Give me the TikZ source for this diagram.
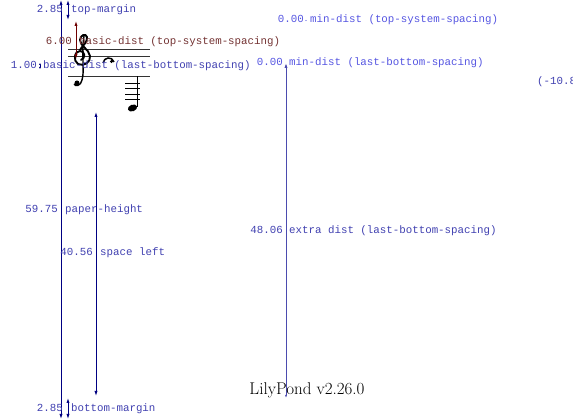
\documentclass[tikz,border=0pt]{standalone}
\usepackage{fontspec}
\setmonofont{Liberation Mono}
\usetikzlibrary{arrows.meta}
\definecolor{navy}{RGB}{0,0,130}
\definecolor{lblblue}{RGB}{64,64,176}
\definecolor{minblue}{RGB}{85,85,225}
\definecolor{lbrown}{RGB}{115,50,50}
\definecolor{darkred}{RGB}{110,0,0}
\definecolor{xblue}{RGB}{75,75,175}
\tikzset{
  lbl/.style={font=\fontsize{10.8}{12}\selectfont\ttfamily, inner sep=0pt},
  num/.style={lbl, anchor=mid east},
  txt/.style={lbl, anchor=mid west},
  tipd/.tip={Latex[length=5pt,width=3.2pt]},
  dimarrow/.style={line width=0.8pt, tipd-tipd},
  uparrow/.style={line width=0.8pt, -tipd},
  staffline/.style={line width=0.6pt, black!80},
}
\begin{document}
\begin{tikzpicture}[x=1pt,y=-1pt]
\useasboundingbox (0,0) rectangle (573,419);
% ---- music ----
\foreach \yy/\nm in {49/sa,56.5/sb,76.5/sc} {
  \coordinate (\nm l) at (68,\yy); \coordinate (\nm r) at (150,\yy);
  \draw[staffline] (\nm l) -- (\nm r);
}
% treble clef (approximate)
\draw[line width=1.9pt, line cap=round]
  (81,60) .. controls (86,58) and (85,51) .. (80,51)
  .. controls (74,51) and (73,61) .. (78,64)
  .. controls (84,67) and (91,62) .. (90,56)
  .. controls (89,49) and (80,46) .. (80,40)
  .. controls (80,35) and (86,33) .. (87,37)
  .. controls (88,42) and (82,46) .. (80,50);
\draw[line width=1.4pt] (84,36) .. controls (81,55) and (85,70) .. (82,80)
  .. controls (81,86) and (75,87) .. (74,84);
\fill (77,83) circle (2.5pt);
% rest-like mark
\draw[line width=1.5pt] (103,63) .. controls (104,57) and (112,56) .. (114,62);
\fill (111.5,61.5) circle (1.7pt);
% note with ledger lines
\foreach \yy/\nm in {83/la,88.5/lb,94/lc,99.5/ld} {
  \coordinate (\nm l) at (125,\yy); \coordinate (\nm r) at (140,\yy);
  \draw[line width=0.8pt] (\nm l) -- (\nm r);
}
\coordinate (stemtop) at (137,76.5); \coordinate (stembot) at (137,107);
\draw[line width=1pt] (stemtop) -- (stembot);
\fill[rotate around={20:(132.5,108)}] (132.5,108) ellipse (4.8pt and 3.3pt);
% ---- paper height ----
\coordinate (ph1) at (61,0); \coordinate (ph2) at (61,419);
\draw[dimarrow, navy] (ph1) -- (ph2);
\node[num, lblblue] (phn) at (58,210) {59.75};
\node[txt, lblblue] (pht) at (65,210) {paper-height};
% ---- top margin ----
\coordinate (tm1) at (68,0); \coordinate (tm2) at (68,20);
\draw[dimarrow, navy] (tm1) -- (tm2);
\node[num, lblblue] (tmn) at (63,10) {2.85};
\node[txt, lblblue] (tmt) at (71,10) {top-margin};
% ---- bottom margin ----
\coordinate (bm1) at (68,398); \coordinate (bm2) at (68,419);
\draw[dimarrow, navy] (bm1) -- (bm2);
\node[num, lblblue] (bmn) at (63,409) {2.85};
\node[txt, lblblue] (bmt) at (71,409) {bottom-margin};
% ---- basic-dist top-system ----
\coordinate (bd1) at (76,21); \coordinate (bd2) at (76,59);
\draw[dimarrow, darkred] (bd1) -- (bd2);
\node[num, lbrown] (bdn) at (72,42) {6.00};
\node[txt, lbrown] (bdt) at (79,42) {basic-dist (top-system-spacing)};
% ---- basic-dist last-bottom ----
\coordinate (lb1) at (40,63); \coordinate (lb2) at (40,69);
\draw[line width=0.6pt, navy, {Latex[length=2pt,width=2pt]}-{Latex[length=2pt,width=2pt]}] (lb1) -- (lb2);
\node[num, lblblue] (lbn) at (37,66) {1.00};
\node[txt, lblblue] (lbt) at (43,66) {basic-dist (last-bottom-spacing)};
% ---- space left ----
\coordinate (sl1) at (96,112); \coordinate (sl2) at (96,396);
\draw[dimarrow, navy] (sl1) -- (sl2);
\node[num, lblblue] (sln) at (93,253) {40.56};
\node[txt, lblblue] (slt) at (100,253) {space left};
% ---- min-dist top-system ----
\coordinate (md) at (306,20.5);
\fill[minblue] (md) circle (0.7pt);
\node[num, minblue] (mdn) at (304,20) {0.00};
\node[txt, minblue] (mdt) at (310,20) {min-dist (top-system-spacing)};
% ---- min-dist last-bottom / extra dist ----
\coordinate (ed1) at (286,63); \coordinate (ed2) at (286,398);
\draw[line width=0.9pt, xblue, tipd-{Latex[length=3pt,width=2pt]}] (ed1) -- (ed2);
\node[num, minblue] (mln) at (283,63) {0.00};
\node[txt, minblue] (mlt) at (289,63) {min-dist (last-bottom-spacing)};
\node[num, lblblue] (edn) at (283,231) {48.06};
\node[txt, lblblue] (edt) at (289,231) {extra dist (last-bottom-spacing)};
% ---- clipped coordinate ----
\node[txt, lblblue] (cut) at (537,82) {(-10.8};
% ---- footer ----
\node[inner sep=0pt, font=\fontsize{17}{19}\selectfont] (foot) at (307,390) {LilyPond v2.26.0};
\end{tikzpicture}
\end{document}
